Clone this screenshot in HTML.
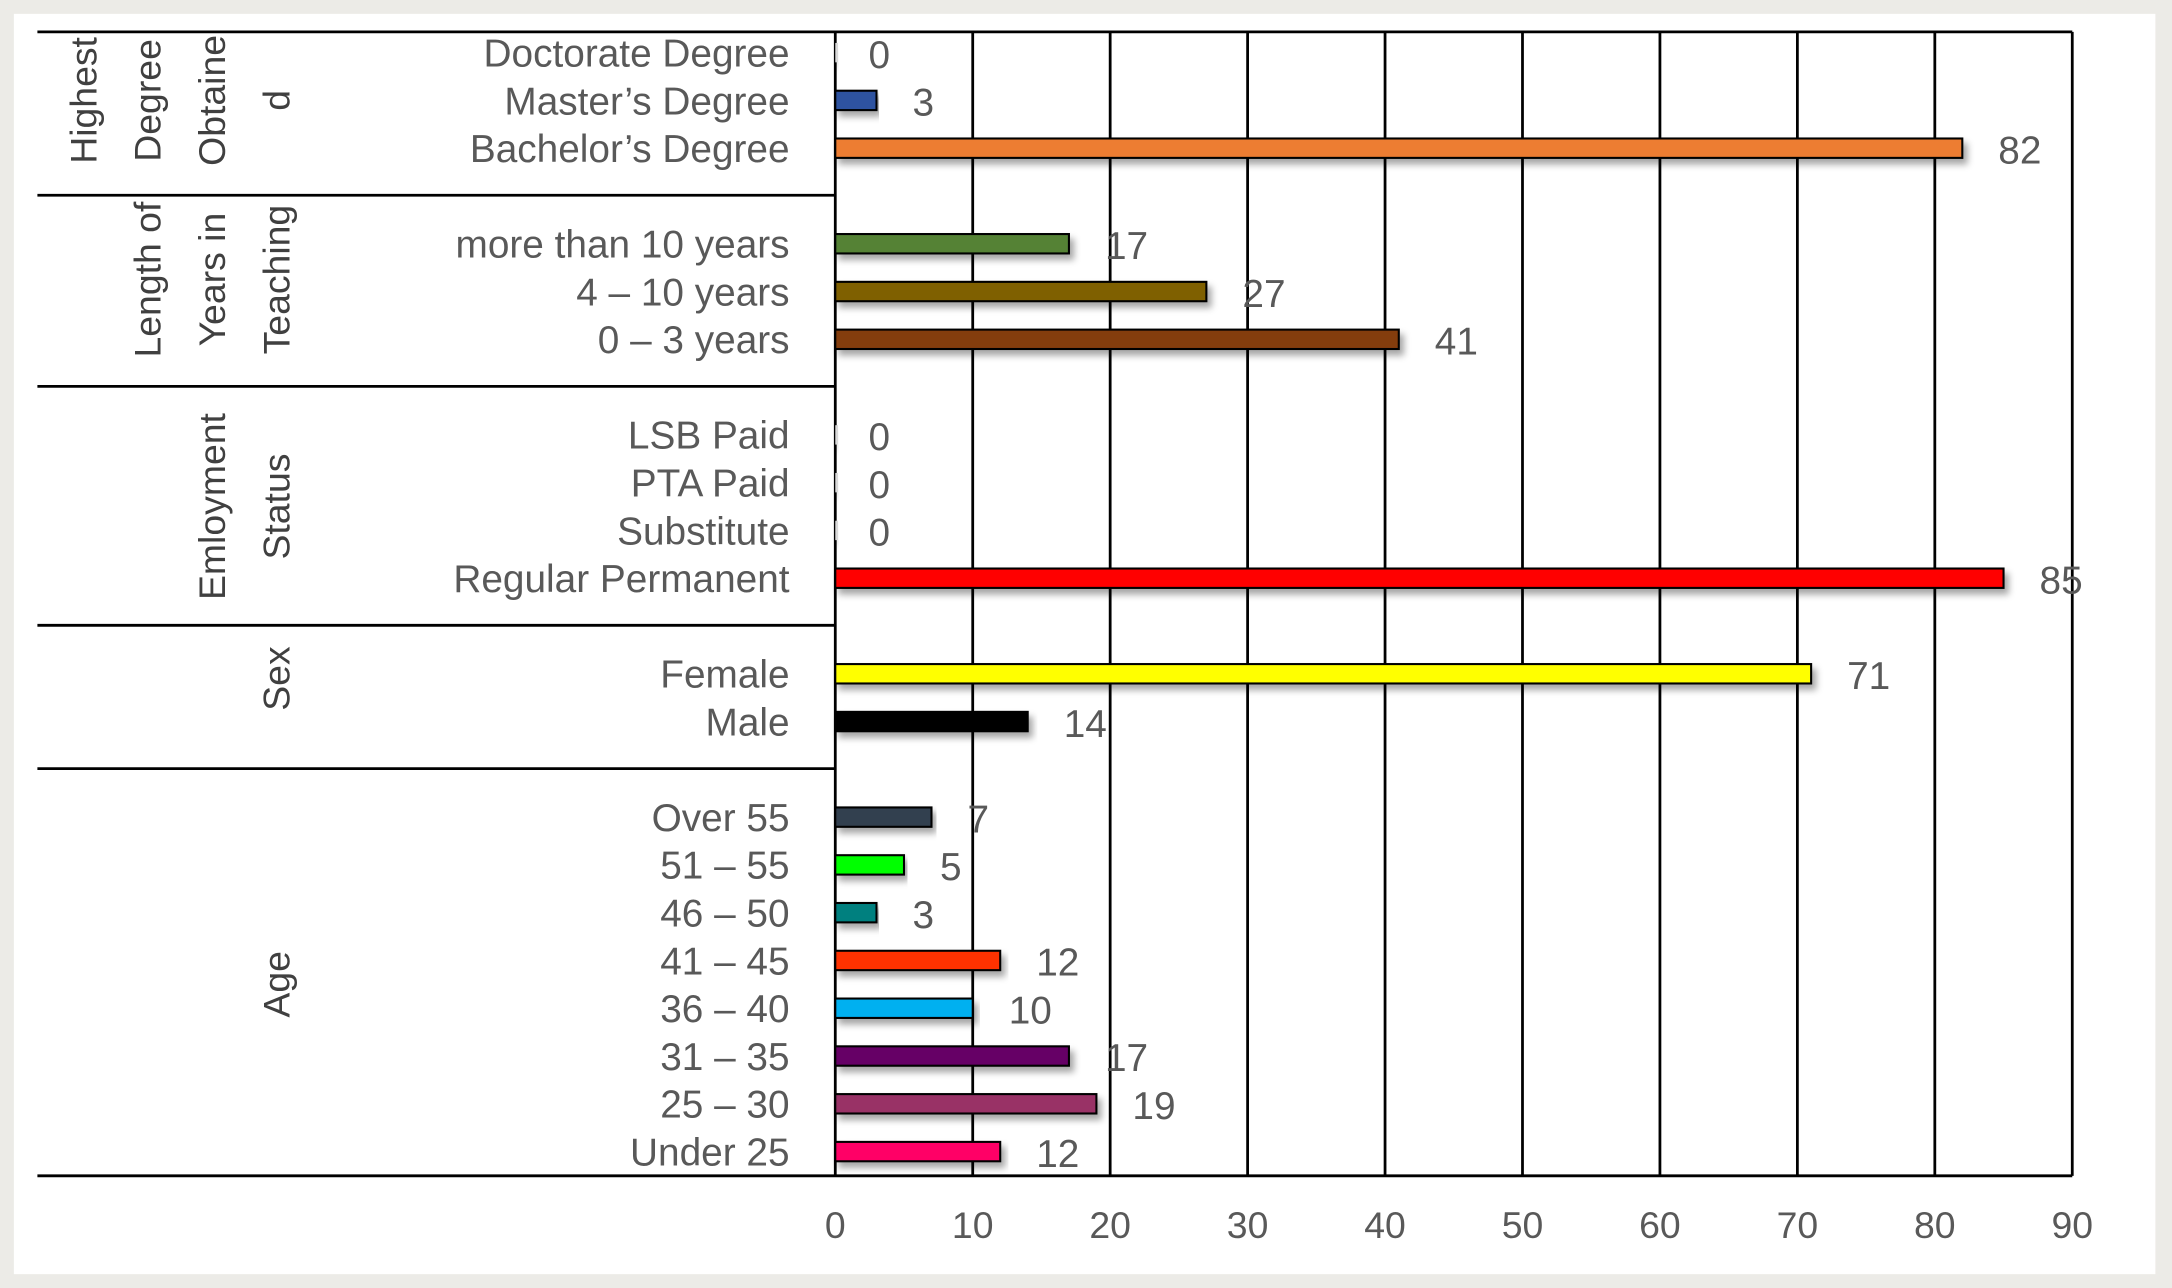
<!DOCTYPE html>
<html><head><meta charset="utf-8"><style>
html,body{margin:0;padding:0;background:#ecebe7;}
svg{display:block;}
text{font-family:"Liberation Sans Narrow","Liberation Sans",sans-serif;fill:#595959;}
</style></head><body>
<svg id="chart" width="2172" height="1288" viewBox="0 0 1568 930" preserveAspectRatio="none" xmlns="http://www.w3.org/2000/svg">
<defs><filter id="sh" x="-5%" y="-50%" width="110%" height="250%"><feDropShadow dx="3" dy="4" stdDeviation="2.5" flood-color="#000" flood-opacity="0.35"/></filter></defs>
<rect x="10" y="10" width="1546" height="910" fill="#fff"/>
<g id="grid"></g>
<g id="bars"></g>
<g id="labels"></g>
<g id="groups"></g>
</svg>
<script>
const categories = ["Doctorate Degree","Master\u2019s Degree","Bachelor\u2019s Degree","more than 10 years","4 \u2013 10 years","0 \u2013 3 years","LSB Paid","PTA Paid","Substitute","Regular Permanent","Female","Male","Over 55","51 \u2013 55","46 \u2013 50","41 \u2013 45","36 \u2013 40","31 \u2013 35","25 \u2013 30","Under 25"];
const values = [0,3,82,17,27,41,0,0,0,85,71,14,7,5,3,12,10,17,19,12];
const slots = [0,1,2,4,5,6,8,9,10,11,13,14,16,17,18,19,20,21,22,23];
const colors = ["#d9d9d9","#2f52a0","#ed7d31","#548235","#7f6000","#843c0c","#d9d9d9","#d9d9d9","#d9d9d9","#ff0000","#ffff00","#000000","#333f50","#00ff00","#00807f","#ff3300","#00b0f0","#660066","#993366","#ff0066"];
const ticks = [0,10,20,30,40,50,60,70,80,90];
const groupNames = [["Highest","Degree","Obtaine","d"],["Length of","Years in","Teaching"],["Emloyment","Status"],["Sex"],["Age"]];
const groupSlots = [[0,2],[3.5,6],[8,11],[12.6,13.6],[16,23]];
const groupBounds = [-0.45,3,7,12,15,24];

const NS="http://www.w3.org/2000/svg";
const x0=603, x1=1496, xmax=90;
const xs=v=>x0+(x1-x0)*v/xmax;
const ys=s=>38+s*34.5;
const yTop=23, yBot=849;
function mk(tag,attrs,parent,txt){const e=document.createElementNS(NS,tag);for(const k in attrs)e.setAttribute(k,attrs[k]);if(txt!==undefined)e.textContent=txt;parent.appendChild(e);return e;}
const grid=document.getElementById('grid'),bars=document.getElementById('bars'),labels=document.getElementById('labels'),groups=document.getElementById('groups');

ticks.forEach(t=>{
  const l=mk('line',{x1:xs(t),x2:xs(t),y1:yTop,y2:yBot,stroke:'#000','stroke-width':2},grid);
  
  
  const tx=mk('text',{x:xs(t),y:894,'font-size':27,'text-anchor':'middle'},grid,String(t));
  
  
});
// separator lines
groupBounds.forEach((b,i)=>{
  const y=i==0?yTop:(i==groupBounds.length-1?yBot:ys(b)-0.5);
  const l=mk('line',{x1:27,x2:i==0?x1:(i==groupBounds.length-1?x1:x0),y1:y,y2:y,stroke:'#000','stroke-width':2},grid);
  
  
});

categories.forEach((c,i)=>{
  const y=ys(slots[i]);
  const w=Math.max(xs(values[i])-x0,values[i]===0?2:0);
  const r=mk('rect',{x:x0,y:y-7,width:w,height:14,fill:colors[i],stroke:values[i]===0?'none':'#000','stroke-width':1.5,filter:'url(#sh)'},bars);
  
  
  const lt=mk('text',{x:570,y:y+10,'font-size':28,'text-anchor':'end'},labels,c);
  
  
  const vt=mk('text',{x:xs(values[i])+(values[i]===0?24:26),y:y+11,'font-size':28},labels,String(values[i]));
  
  
});

groupNames.forEach((lines,g)=>{
  const cy=(ys(groupSlots[g][0])+ys(groupSlots[g][1]))/2;
  const n=lines.length;
  lines.forEach((ln,k)=>{
    const cx=200-(n-1-k)*46.5;
    const t=mk('text',{x:cx+9,y:cy,'font-size':27,'text-anchor':'middle',transform:`rotate(-90 ${cx+9} ${cy})`,style:'fill:#404040'},groups,ln);
    
    
  });
});
</script>
</body></html>
